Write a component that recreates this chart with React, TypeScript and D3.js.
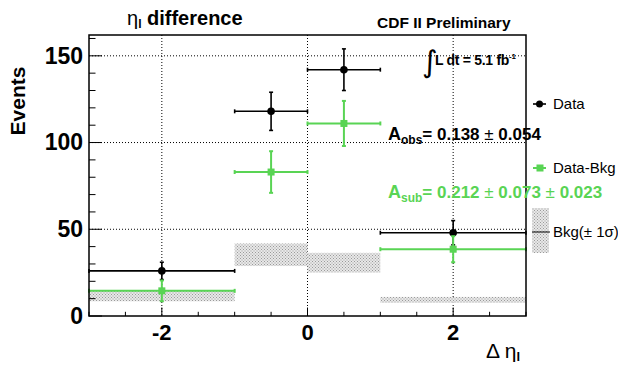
import { useEffect, useRef } from 'react'
import * as d3 from 'd3'

// bins in delta eta_l
const binLo = [-3, -1, 0, 1]
const binHi = [-1, 0, 1, 3]
const binCenter = [-2, -0.5, 0.5, 2]

const dataVals = [26, 118, 142, 48]
const dataErr = [5, 11, 12, 7]

const subVals = [14.5, 83, 111, 38.5]
const subErr = [6, 12, 13, 7.5]

const bkgVals = [11.5, 35.3, 30.7, 9.3]
const bkgErr = [3, 6.5, 5.7, 1.7]

const xTicks = [-2, 0, 2]
const yTicks = [0, 50, 100, 150]

const GREEN = '#59d454'
const FONT = '"Liberation Sans", Arial, Helvetica, sans-serif'

export default function App() {
  const svgRef = useRef<SVGSVGElement>(null)

  useEffect(() => {
    const W = 618
    const H = 366
    const left = 89, right = 526, top = 35, bottom = 316

    const x = d3.scaleLinear().domain([-3, 3]).range([left, right])
    const y = d3.scaleLinear().domain([0, 162]).range([bottom, top])

    const svg = d3.select(svgRef.current)
    svg.selectAll('*').remove()
    svg.attr('width', W).attr('height', H)

    const defs = svg.append('defs')
    const pat = defs.append('pattern').attr('id', 'hatch')
      .attr('width', 3).attr('height', 3).attr('patternUnits', 'userSpaceOnUse')
    pat.append('rect').attr('width', 3).attr('height', 3).attr('fill', '#e8e8e8')
    pat.append('rect').attr('width', 1).attr('height', 1).attr('fill', '#9a9a9a')
    pat.append('rect').attr('x', 1.5).attr('y', 1.5).attr('width', 1).attr('height', 1).attr('fill', '#9a9a9a')

    svg.append('rect').attr('width', W).attr('height', H).attr('fill', '#fff')

    // grid
    const g = svg.append('g')
    xTicks.forEach((t) => {
      g.append('line').attr('x1', x(t)).attr('x2', x(t)).attr('y1', top).attr('y2', bottom)
        .attr('stroke', '#000').attr('stroke-width', 1).attr('stroke-dasharray', '1,2')
    })
    yTicks.filter((t) => t > 0).forEach((t) => {
      g.append('line').attr('x1', left).attr('x2', right).attr('y1', y(t)).attr('y2', y(t))
        .attr('stroke', '#000').attr('stroke-width', 1).attr('stroke-dasharray', '1,2')
    })

    // background bands
    binLo.forEach((lo, i) => {
      g.append('rect')
        .attr('x', x(lo)).attr('width', x(binHi[i]) - x(lo))
        .attr('y', y(bkgVals[i] + bkgErr[i]))
        .attr('height', y(bkgVals[i] - bkgErr[i]) - y(bkgVals[i] + bkgErr[i]))
        .attr('fill', 'url(#hatch)')
    })

    const drawPoints = (vals: number[], errs: number[], color: string, marker: 'circle' | 'square') => {
      const cap = 2
      vals.forEach((v, i) => {
        const cx = x(binCenter[i])
        const cy = y(v)
        const x0 = x(binLo[i]), x1 = x(binHi[i])
        const y0 = y(v - errs[i]), y1 = y(v + errs[i])
        const sw = marker === 'circle' ? 1.6 : 2
        g.append('line').attr('x1', x0).attr('x2', x1).attr('y1', cy).attr('y2', cy)
          .attr('stroke', color).attr('stroke-width', sw)
        g.append('line').attr('x1', cx).attr('x2', cx).attr('y1', y0).attr('y2', y1)
          .attr('stroke', color).attr('stroke-width', sw)
        ;[x0, x1].forEach((xx) => {
          g.append('line').attr('x1', xx).attr('x2', xx).attr('y1', cy - cap).attr('y2', cy + cap)
            .attr('stroke', color).attr('stroke-width', sw)
        })
        ;[y0, y1].forEach((yy) => {
          g.append('line').attr('x1', cx - cap).attr('x2', cx + cap).attr('y1', yy).attr('y2', yy)
            .attr('stroke', color).attr('stroke-width', sw)
        })
        if (marker === 'circle') {
          g.append('circle').attr('cx', cx).attr('cy', cy).attr('r', 3.8).attr('fill', color)
        } else {
          g.append('rect').attr('x', cx - 3.5).attr('y', cy - 3.5).attr('width', 7).attr('height', 7).attr('fill', color)
        }
      })
    }
    drawPoints(dataVals, dataErr, '#000', 'circle')
    drawPoints(subVals, subErr, GREEN, 'square')

    // frame
    svg.append('rect').attr('x', left).attr('y', top).attr('width', right - left).attr('height', bottom - top)
      .attr('fill', 'none').attr('stroke', '#000').attr('stroke-width', 1.5)

    // axes ticks
    const ax = svg.append('g')
    d3.range(-3, 3.01, 0.5).forEach((t) => {
      const major = xTicks.includes(t)
      ax.append('line').attr('x1', x(t)).attr('x2', x(t)).attr('y1', bottom).attr('y2', bottom - (major ? 8.5 : 4.2))
        .attr('stroke', '#000').attr('stroke-width', 1)
    })
    d3.range(0, 161, 10).forEach((t) => {
      const major = yTicks.includes(t)
      ax.append('line').attr('x1', left).attr('x2', left + (major ? 13 : 6.5)).attr('y1', y(t)).attr('y2', y(t))
        .attr('stroke', '#000').attr('stroke-width', 1)
    })
    xTicks.forEach((t) => {
      ax.append('text').attr('x', x(t)).attr('y', 340).attr('text-anchor', 'middle')
        .attr('font-family', FONT).attr('font-weight', 'bold').attr('font-size', 22).text(String(t))
    })
    yTicks.forEach((t) => {
      ax.append('text').attr('x', 83).attr('y', y(t) + 7.8).attr('text-anchor', 'end')
        .attr('font-family', FONT).attr('font-weight', 'bold').attr('font-size', 23).text(String(t))
    })

    // axis titles
    svg.append('text').attr('transform', 'translate(25,101) rotate(-90)').attr('text-anchor', 'middle')
      .attr('font-family', FONT).attr('font-weight', 'bold').attr('font-size', 21).text('Events')

    const xt = svg.append('text').attr('x', 486).attr('y', 358)
      .attr('font-family', FONT).attr('font-size', 21)
    xt.append('tspan').text('Δ η')
    xt.append('tspan').attr('font-size', 13).attr('font-weight', 'bold').attr('dy', 3).text('l')

    // title
    const tt = svg.append('text').attr('x', 127).attr('y', 25)
      .attr('font-family', FONT).attr('font-size', 20)
    tt.append('tspan').text('η')
    tt.append('tspan').attr('font-size', 12).attr('font-weight', 'bold').attr('dy', 3).text('l')
    tt.append('tspan').attr('font-weight', 'bold').attr('dy', -3).text(' difference')

    svg.append('text').attr('x', 377).attr('y', 28)
      .attr('font-family', FONT).attr('font-weight', 'bold').attr('font-size', 15.5).text('CDF II Preliminary')

    // luminosity
    svg.append('text').attr('x', 422).attr('y', 72)
      .attr('font-family', '"DejaVu Sans", sans-serif').attr('font-size', 30).attr('font-weight', 'normal').text('∫')
    const lt = svg.append('text').attr('x', 435).attr('y', 65)
      .attr('font-family', FONT).attr('font-weight', 'bold').attr('font-size', 14).attr('letter-spacing', -0.3)
    lt.append('tspan').text('L dt = 5.1 fb')
    lt.append('tspan').attr('font-size', 8).attr('dy', -6).text('-1')

    // asymmetries
    const addAsym = (yy: number, sub: string, rest: string[], color: string) => {
      const t = svg.append('text').attr('x', 388).attr('y', yy)
        .attr('font-family', FONT).attr('font-weight', 'bold').attr('font-size', 17).attr('fill', color)
      t.append('tspan').attr('font-size', 18).text('A')
      t.append('tspan').attr('font-size', 12).attr('dy', 4).text(sub)
      t.append('tspan').attr('dy', -4).text('= ' + rest[0])
      rest.slice(1).forEach((r) => {
        t.append('tspan').attr('font-weight', 'normal').text(' ± ')
        t.append('tspan').text(r)
      })
    }
    addAsym(140, 'obs', ['0.138', '0.054'], '#000')
    addAsym(198, 'sub', ['0.212', '0.073', '0.023'], GREEN)

    // legend
    const lg = svg.append('g')
    const legY = [104, 168]
    lg.append('line').attr('x1', 533).attr('x2', 546).attr('y1', legY[0]).attr('y2', legY[0])
      .attr('stroke', '#000').attr('stroke-width', 1.6)
    lg.append('circle').attr('cx', 539.5).attr('cy', legY[0]).attr('r', 3.5).attr('fill', '#000')
    lg.append('line').attr('x1', 533).attr('x2', 546).attr('y1', legY[1]).attr('y2', legY[1])
      .attr('stroke', GREEN).attr('stroke-width', 2)
    lg.append('rect').attr('x', 536.5).attr('y', legY[1] - 3.5).attr('width', 7).attr('height', 7).attr('fill', GREEN)
    lg.append('rect').attr('x', 532).attr('y', 208).attr('width', 17).attr('height', 45).attr('fill', 'url(#hatch)')
    lg.append('line').attr('x1', 532).attr('x2', 550).attr('y1', 232).attr('y2', 232)
      .attr('stroke', '#000').attr('stroke-width', 1)
    const legText = ['Data', 'Data-Bkg', 'Bkg(± 1σ)']
    ;[109, 173, 237].forEach((yy, i) => {
      lg.append('text').attr('x', 553).attr('y', yy)
        .attr('font-family', FONT).attr('font-size', 15).text(legText[i])
    })
  }, [])

  return (
    <div style={{ position: 'absolute', left: 0, top: 0 }}>
      <svg ref={svgRef} style={{ display: 'block' }} />
    </div>
  )
}
